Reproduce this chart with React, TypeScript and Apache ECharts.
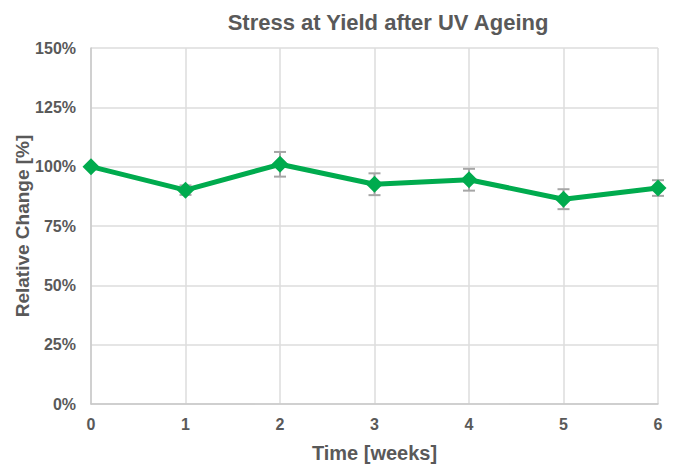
import React, { useEffect, useRef } from "react";
import * as echarts from "echarts";

const weeks = [0, 1, 2, 3, 4, 5, 6];
const relativeChange = [100, 90.1, 101, 92.6, 94.5, 86.3, 91];
const errorPlusMinus = [0, 2, 5.2, 4.6, 4.6, 4.2, 3.3];
const yTicks = [0, 25, 50, 75, 100, 125, 150];

export default function App() {
  const ref = useRef<HTMLDivElement>(null);
  useEffect(() => {
    if (!ref.current) return;
    const chart = echarts.init(ref.current, null, { renderer: "svg" });
    const text = "#595959";
    const font = "'Liberation Sans', Arial, sans-serif";
    chart.setOption({
      animation: false,
      backgroundColor: "#ffffff",
      title: {
        text: "Stress at Yield after UV Ageing",
        left: 383,
        textAlign: "center",
        top: 6,
        textStyle: { color: text, fontSize: 22, fontWeight: "bold", fontFamily: font },
      },
      grid: { left: 91, right: 17, top: 48, bottom: 66, containLabel: false, outerBoundsMode: "none" },
      xAxis: {
        type: "value",
        min: 0,
        max: 6,
        interval: 1,
        name: "Time [weeks]",
        nameLocation: "middle",
        nameGap: 39,
        nameMoveOverlap: false,
        nameTextStyle: { color: text, fontSize: 20, fontWeight: "bold", fontFamily: font },
        axisLine: { show: true, lineStyle: { color: "#c8c8c8", width: 1.5 } },
        axisTick: { show: false },
        axisLabel: { color: text, fontSize: 16, fontWeight: "bold", fontFamily: font, margin: 12 },
        splitLine: { show: true, lineStyle: { color: "#dcdcdc", width: 1.5 } },
      },
      yAxis: {
        type: "value",
        min: 0,
        max: 150,
        interval: 25,
        name: "Relative Change [%]",
        nameLocation: "middle",
        nameGap: 59,
        nameMoveOverlap: false,
        nameTextStyle: { color: text, fontSize: 19, fontWeight: "bold", fontFamily: font },
        axisLine: { show: true, lineStyle: { color: "#c8c8c8", width: 1.5 } },
        axisTick: { show: false },
        axisLabel: {
          color: text,
          fontSize: 16,
          fontWeight: "bold",
          fontFamily: font,
          margin: 15,
          formatter: (v: number) => (yTicks.includes(v) ? v + "%" : ""),
        },
        splitLine: { show: true, lineStyle: { color: "#dcdcdc", width: 1.5 } },
      },
      series: [
        {
          type: "custom",
          z: 1,
          data: weeks.map((w, i) => [w, relativeChange[i] - errorPlusMinus[i], relativeChange[i] + errorPlusMinus[i]]),
          renderItem: (params: any, api: any) => {
            const x = api.value(0);
            const lo = api.coord([x, api.value(1)]);
            const hi = api.coord([x, api.value(2)]);
            const half = 6;
            const style = { stroke: "#a6a6a6", lineWidth: 2 };
            return {
              type: "group",
              children: [
                { type: "line", shape: { x1: lo[0], y1: lo[1], x2: hi[0], y2: hi[1] }, style },
                { type: "line", shape: { x1: lo[0] - half, y1: lo[1], x2: lo[0] + half, y2: lo[1] }, style },
                { type: "line", shape: { x1: hi[0] - half, y1: hi[1], x2: hi[0] + half, y2: hi[1] }, style },
              ],
            };
          },
        },
        {
          type: "line",
          z: 3,
          data: weeks.map((w, i) => [w, relativeChange[i]]),
          symbol: "diamond",
          symbolSize: 17,
          lineStyle: { color: "#00ab4e", width: 5 },
          itemStyle: { color: "#00ab4e" },
        },
      ],
    });
    return () => chart.dispose();
  }, []);
  return <div ref={ref} style={{ width: 675, height: 470, position: "absolute", left: 0, top: 0 }} />;
}
